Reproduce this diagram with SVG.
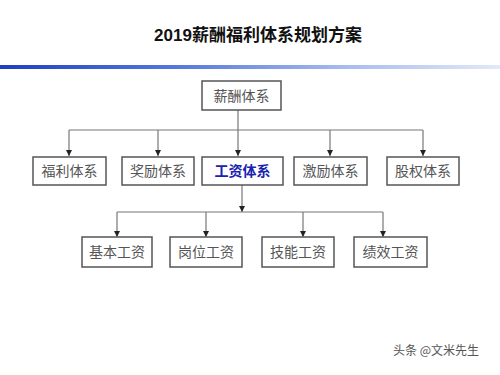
<svg xmlns="http://www.w3.org/2000/svg" width="500" height="375" viewBox="0 0 500 375">
<defs>
<linearGradient id="bar" x1="0" y1="0" x2="1" y2="0">
<stop offset="0" stop-color="#1f3fbf"/>
<stop offset="0.35" stop-color="#5577dd"/>
<stop offset="0.7" stop-color="#a9bdee"/>
<stop offset="1" stop-color="#e2e9f9"/>
</linearGradient>
<marker id="arr" viewBox="0 0 6 6" refX="6" refY="3" markerWidth="6" markerHeight="6" markerUnits="userSpaceOnUse" orient="auto">
<path d="M0,0 L6,3 L0,6 z" fill="#222"/>
</marker>
<style>
.box{fill:#fff;stroke:#555;stroke-width:1.5}
.lbl{font-family:"Noto Sans CJK SC","Noto Sans CJK JP",sans-serif;font-size:14px;fill:#555;text-anchor:middle}
.hl{fill:#1a22b0;font-weight:bold}
.ln{fill:none;stroke:#777;stroke-width:1.2}
.ar{fill:none;stroke:#777;stroke-width:1.2;marker-end:url(#arr)}
</style>
</defs>
<rect width="500" height="375" fill="#fff"/>
<text x="258" y="41" font-family="'Liberation Sans','Noto Sans CJK SC',sans-serif" font-size="17" font-weight="bold" fill="#111" text-anchor="middle">2019薪酬福利体系规划方案</text>
<rect x="0" y="65" width="500" height="4" fill="url(#bar)"/>
<g id="connectors">
<line class="ar" x1="238" y1="110" x2="238" y2="156"/>
<line class="ln" x1="69" y1="130" x2="423" y2="130"/>
<line class="ar" x1="69" y1="130" x2="69" y2="156"/>
<line class="ar" x1="158" y1="130" x2="158" y2="156"/>
<line class="ar" x1="330" y1="130" x2="330" y2="156"/>
<line class="ar" x1="423" y1="130" x2="423" y2="156"/>
<line class="ar" x1="242" y1="185" x2="242" y2="212"/>
<line class="ln" x1="117" y1="212" x2="383" y2="212"/>
<line class="ar" x1="117" y1="212" x2="117" y2="237"/>
<line class="ar" x1="206" y1="212" x2="206" y2="237"/>
<line class="ar" x1="303" y1="212" x2="303" y2="237"/>
<line class="ar" x1="383" y1="212" x2="383" y2="237"/>
</g>
<g id="n-root"><rect class="box" x="202" y="81" width="79" height="29"/><text class="lbl" x="241.5" y="100.5">薪酬体系</text></g>
<g id="n-fuli"><rect class="box" x="33" y="157" width="73" height="28"/><text class="lbl" x="69.5" y="176">福利体系</text></g>
<g id="n-jiangli"><rect class="box" x="122" y="157" width="72" height="28"/><text class="lbl" x="158" y="176">奖励体系</text></g>
<g id="n-gongzi"><rect class="box" x="202" y="157" width="81" height="28"/><text class="lbl hl" x="242.5" y="176">工资体系</text></g>
<g id="n-jili"><rect class="box" x="294" y="157" width="73" height="28"/><text class="lbl" x="330.5" y="176">激励体系</text></g>
<g id="n-guquan"><rect class="box" x="387" y="157" width="72" height="28"/><text class="lbl" x="423" y="176">股权体系</text></g>
<g id="n-jiben"><rect class="box" x="82" y="237" width="70" height="30"/><text class="lbl" x="117" y="257">基本工资</text></g>
<g id="n-gangwei"><rect class="box" x="170" y="237" width="72" height="30"/><text class="lbl" x="206" y="257">岗位工资</text></g>
<g id="n-jineng"><rect class="box" x="262" y="237" width="72" height="30"/><text class="lbl" x="298" y="257">技能工资</text></g>
<g id="n-jixiao"><rect class="box" x="354" y="237" width="73" height="30"/><text class="lbl" x="390.5" y="257">绩效工资</text></g>
<text x="436" y="355" font-family="'Noto Sans CJK SC',sans-serif" font-size="12" fill="#555" text-anchor="middle">头条 @文米先生</text>
</svg>
